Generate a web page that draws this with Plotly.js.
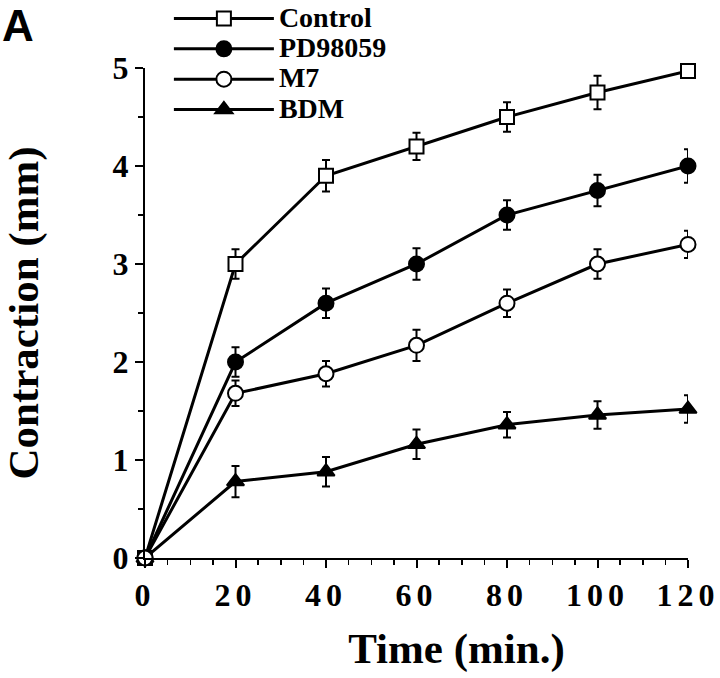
<!DOCTYPE html>
<html><head><meta charset="utf-8">
<script src="https://cdn.plot.ly/plotly-3.0.1.min.js"></script>
<style>
body{margin:0;background:#fff}
#chart{width:720px;height:678px}
.xtick text{letter-spacing:5px}
.xtitle{transform:translate(40px,0)}
</style></head><body><div id="chart"></div>
<script>
const time = [0, 20, 40, 60, 80, 100, 120];
const seriesNames = ["Control", "PD98059", "M7", "BDM"];
const control = [0, 3.0, 3.9, 4.2, 4.5, 4.75, 4.97];
const controlErr = [0, 0.15, 0.16, 0.14, 0.15, 0.17, 0.04];
const pd98059 = [0, 2.0, 2.6, 3.0, 3.5, 3.75, 4.0];
const pd98059Err = [0, 0.15, 0.15, 0.16, 0.15, 0.16, 0.17];
const m7 = [0, 1.68, 1.88, 2.17, 2.6, 3.0, 3.2];
const m7Err = [0, 0.13, 0.13, 0.16, 0.14, 0.15, 0.14];
const bdm = [0, 0.78, 0.88, 1.16, 1.36, 1.46, 1.52];
const bdmErr = [0, 0.16, 0.15, 0.15, 0.13, 0.14, 0.14];
const xTickVals = [0, 20, 40, 60, 80, 100, 120];
const xTickLabels = ["0", "20", "40", "60", "80", "100", "120"];
const yTickVals = [0, 1, 2, 3, 4, 5];
const yTickLabels = ["0", "1", "2", "3", "4", "5"];

const serif = '"Liberation Serif", "Times New Roman", serif';

function tr(name, y, err, symbol, fill, size, rank) {
  return {
    x: time, y: y, type: 'scatter', mode: 'lines+markers',
    name: '<span style="font-size:28px">' + name + '</span>',
    line: {color: '#000', width: 3},
    marker: {symbol: symbol, size: size, color: fill, line: {color: '#000', width: 2}},
    error_y: {type: 'data', array: err, visible: true, color: '#000', thickness: 2, width: 4},
    cliponaxis: false,
    legendrank: rank
  };
}

const data = [
  tr(seriesNames[3], bdm, bdmErr, 'triangle-up', '#000', 15, 4),
  tr(seriesNames[1], pd98059, pd98059Err, 'circle', '#000', 15, 2),
  tr(seriesNames[0], control, controlErr, 'square', '#fff', 14, 1),
  tr(seriesNames[2], m7, m7Err, 'circle', '#fff', 15, 3)
];

const axisCommon = {
  showline: true, linewidth: 2, linecolor: '#000',
  ticks: 'outside', ticklen: 8, tickwidth: 2, tickcolor: '#000',
  showgrid: false, zeroline: false, fixedrange: true,
  tickfont: {family: serif, size: 32, weight: 'bold', color: '#000'}
};

const layout = {
  width: 720, height: 678,
  margin: {l: 145, r: 32, t: 68, b: 120, autoexpand: false},
  paper_bgcolor: '#fff', plot_bgcolor: '#fff',
  font: {family: serif, color: '#000'},
  showlegend: true,
  legend: {
    x: 0.044, y: 1.142, xanchor: 'left', yanchor: 'top',
    font: {family: serif, size: 21, weight: 'bold', color: '#000'},
    itemwidth: 100, bgcolor: 'rgba(0,0,0,0)', borderwidth: 0, tracegroupgap: 0
  },
  xaxis: Object.assign({}, axisCommon, {
    range: [0, 120], tickmode: 'array', tickvals: xTickVals, ticktext: xTickLabels,
    minor: {dtick: 5, tick0: 0, ticks: 'outside', ticklen: 5, tickwidth: 1.5, tickcolor: '#000', showgrid: false},
    title: {text: 'Time (min.)', font: {family: serif, size: 43, weight: 'bold', color: '#000'}, standoff: 20}
  }),
  yaxis: Object.assign({}, axisCommon, {
    range: [0, 5], tickmode: 'array', tickvals: yTickVals, ticktext: yTickLabels,
    minor: {dtick: 0.5, tick0: 0, ticks: 'outside', ticklen: 5, tickwidth: 1.5, tickcolor: '#000', showgrid: false},
    title: {text: 'Contraction (mm)', font: {family: serif, size: 43, weight: 'bold', color: '#000'}, standoff: 62}
  }),
  annotations: [{
    text: 'A', xref: 'paper', yref: 'paper', x: -0.234, y: 1.1388,
    xanchor: 'center', yanchor: 'top', showarrow: false, borderpad: 0,
    font: {family: '"Liberation Sans", Arial, sans-serif', size: 44, weight: 'bold', color: '#000'}
  }]
};

Plotly.newPlot('chart', data, layout, {displayModeBar: false, staticPlot: true});
</script></body></html>
